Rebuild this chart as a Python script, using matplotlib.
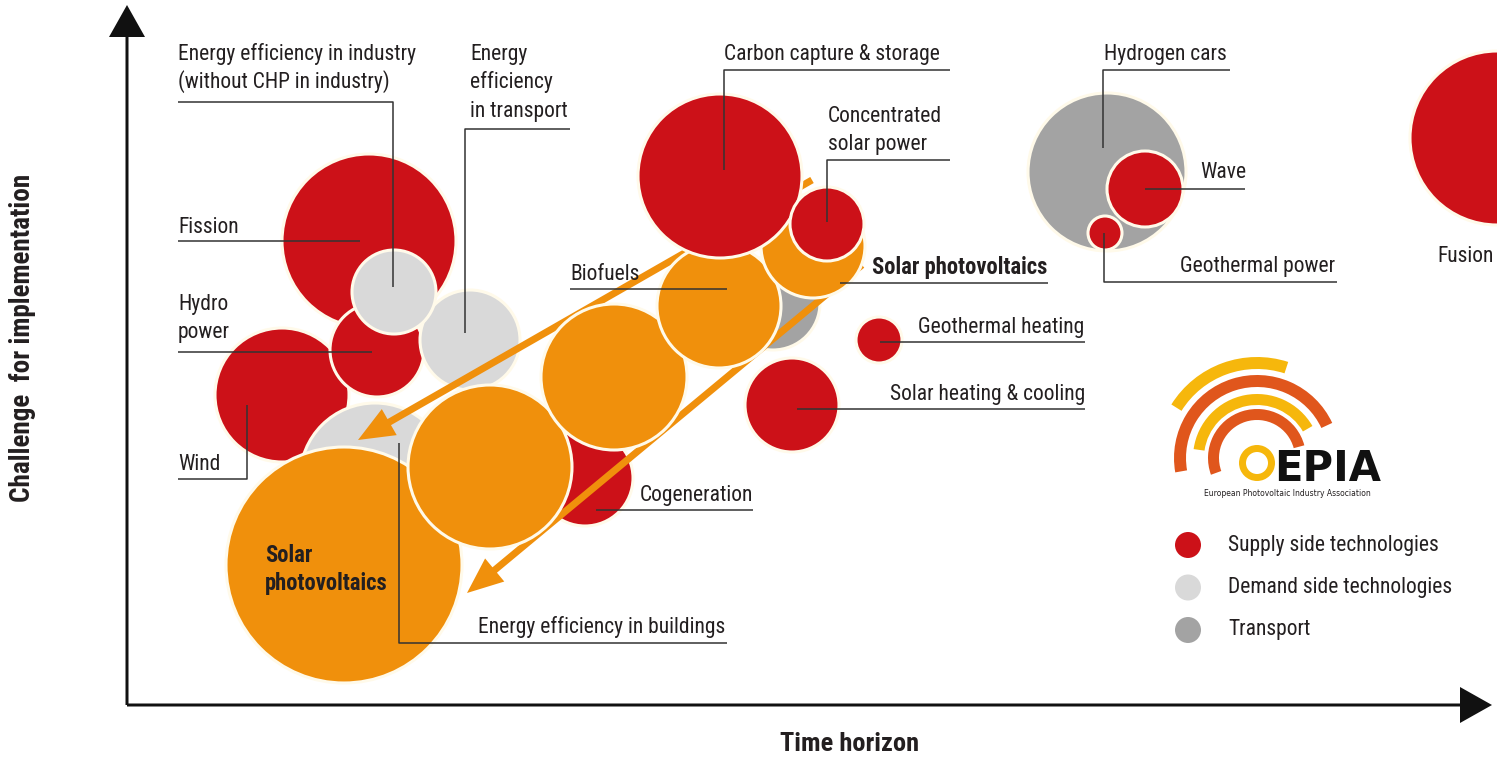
import matplotlib.pyplot as plt
from matplotlib.patches import Circle, Wedge, FancyArrow

plt.rcParams['font.family'] = ['Roboto Condensed', 'Archivo Narrow',
                               'Liberation Sans Narrow', 'DejaVu Sans']

RED = '#cc1118'
ORANGE = '#f0900c'
LIGHT = '#d9d9d9'
DARK = '#a3a3a3'
EDGE = '#fffaea'
INK = '#231f20'

# origin of the chart (axis corner) in picture pixels, used for the text layout
OX, OY = 127, 705

# bubbles: x = time horizon, y = challenge for implementation, r = bubble size
tech = ['Wind', 'Fission', 'Hydro power', 'Energy efficiency in transport',
        'Energy efficiency in industry', 'Energy efficiency in buildings',
        'Cogeneration', 'Solar heating & cooling', 'Geothermal heating',
        'Biofuels', 'Solar PV 1', 'Solar PV 2', 'Solar PV 3', 'Solar PV 4',
        'Solar PV 5', 'Carbon capture & storage', 'Concentrated solar power',
        'Hydrogen cars', 'Wave', 'Geothermal power', 'Fusion']
group = ['supply', 'supply', 'supply', 'demand', 'demand', 'demand',
         'supply', 'supply', 'supply', 'transport', 'pv', 'pv', 'pv', 'pv',
         'pv', 'supply', 'supply', 'transport', 'supply', 'supply', 'supply']
tx = [155, 242, 250, 343, 267, 248, 458, 665, 752, 646,
      217, 363, 487, 592, 686, 593, 700, 980, 1018, 978, 1370]
cy = [310, 464, 355, 365, 413, 227, 227, 300, 365, 402,
      140, 238, 328, 399, 459, 529, 481, 533, 516, 472, 567]
size = [67, 87, 47, 50, 42, 75, 48, 47, 23, 47,
        118, 82, 73, 62, 52, 82, 37, 79, 38, 17, 87]

# PV path arrows (start, tip) in chart units
arrow_start = [(685, 525), (735, 440)]
arrow_tip = [(231, 265), (340, 112)]

colors = {'supply': RED, 'demand': LIGHT, 'transport': DARK, 'pv': ORANGE}

fig = plt.figure(figsize=(14.97, 7.58), dpi=100)
ax = fig.add_axes([0, 0, 1, 1])
ax.set_xlim(-OX, 1497 - OX)
ax.set_ylim(OY - 758, OY)
ax.axis('off')


def P(px, py):
    return px - OX, OY - py


# bubbles before the PV chain, then arrows, then PV chain and the rest
first_pv = group.index('pv')
for i in range(first_pv):
    ax.add_patch(Circle((tx[i], cy[i]), size[i], facecolor=colors[group[i]],
                        edgecolor=EDGE, linewidth=2.2, zorder=2 + i * 0.01))

for (x0, y0), (x1, y1) in zip(arrow_start, arrow_tip):
    ax.add_patch(FancyArrow(x0, y0, x1 - x0, y1 - y0, width=7, head_width=30,
                            head_length=36, length_includes_head=True,
                            color=ORANGE, linewidth=0, zorder=3))

for i in range(first_pv, len(tech)):
    ax.add_patch(Circle((tx[i], cy[i]), size[i], facecolor=colors[group[i]],
                        edgecolor=EDGE, linewidth=2.2, zorder=4 + i * 0.01))

# axes arrows
ax.add_patch(FancyArrow(0, 0, 0, 700, width=3, head_width=36, head_length=32,
                        length_includes_head=True, color='#111111', linewidth=0, zorder=6))
ax.add_patch(FancyArrow(0, 0, 1365, 0, width=3, head_width=36, head_length=32,
                        length_includes_head=True, color='#111111', linewidth=0, zorder=6))

ax.text(*P(22, 338), 'Challenge  for implementation', rotation=90, ha='center',
        va='center', fontsize=19.5, fontweight='bold', color=INK)
ax.text(*P(850, 744), 'Time horizon', ha='center', va='center',
        fontsize=19, fontweight='bold', color=INK)

# labels: text, left x, baseline y (pixels), bold
labels = [
    ('Energy efficiency in industry', 178, 60, False),
    ('(without CHP in industry)', 178, 88, False),
    ('Energy', 470, 60, False),
    ('efficiency', 470, 88, False),
    ('in transport', 470, 117, False),
    ('Fission', 178, 233, False),
    ('Hydro', 178, 310, False),
    ('power', 178, 338, False),
    ('Wind', 178, 470, False),
    ('Carbon capture & storage', 724, 60, False),
    ('Concentrated', 828, 122, False),
    ('solar power', 828, 150, False),
    ('Solar photovoltaics', 872, 274, True),
    ('Biofuels', 570, 280, False),
    ('Geothermal heating', 918, 333, False),
    ('Solar heating & cooling', 890, 400, False),
    ('Cogeneration', 640, 501, False),
    ('Energy efficiency in buildings', 478, 633, False),
    ('Solar', 265, 562, True),
    ('photovoltaics', 265, 590, True),
    ('Hydrogen cars', 1104, 60, False),
    ('Wave', 1200, 178, False),
    ('Geothermal power', 1180, 272, False),
    ('Fusion', 1437, 262, False),
]
for text, x, y, bold in labels:
    ax.text(*P(x, y), text, ha='left', va='baseline',
            fontsize=16.3 if bold else 15.5,
            fontweight='bold' if bold else 'normal', color=INK, zorder=8)

leaders = [
    [(178, 102), (393, 102), (393, 287)],
    [(570, 129), (465, 129), (465, 333)],
    [(178, 241), (360, 241)],
    [(178, 352), (372, 352)],
    [(178, 479), (247, 479), (247, 405)],
    [(950, 70), (724, 70), (724, 170)],
    [(950, 160), (827, 160), (827, 222)],
    [(840, 283), (1048, 283)],
    [(570, 289), (727, 289)],
    [(880, 342), (1085, 342)],
    [(797, 409), (1085, 409)],
    [(596, 510), (753, 510)],
    [(399, 443), (399, 643), (727, 643)],
    [(1103, 148), (1103, 70), (1230, 70)],
    [(1145, 189), (1245, 189)],
    [(1104, 233), (1104, 282), (1337, 282)],
]
for path in leaders:
    xs, ys = zip(*[P(px, py) for px, py in path])
    ax.plot(xs, ys, color='#333333', linewidth=1.1, zorder=7,
            solid_capstyle='butt')

# legend
legend_labels = ['Supply side technologies', 'Demand side technologies', 'Transport']
legend_cols = [RED, LIGHT, DARK]
for k, (lab, col) in enumerate(zip(legend_labels, legend_cols)):
    x, y = P(1188, 545 + 42.5 * k)
    ax.add_patch(Circle((x, y), 13, facecolor=col, edgecolor='none', zorder=5))
    ax.text(*P(1228, 545 + 42.5 * k), lab, ha='left', va='center',
            fontsize=15.5, color=INK)

# EPIA logo
lc = P(1257, 458)
YEL = '#f6b70c'
ROR = '#e0561c'
arcs = [(49, 11, 15, 200, ROR), (64, 11, 30, 172, YEL),
        (83, 12, 25, 190, ROR), (101, 12, 72, 148, YEL)]
for r, w, t1, t2, col in arcs:
    ax.add_patch(Wedge(lc, r, t1, t2, width=w, facecolor=col,
                       edgecolor='none', zorder=5))
ax.add_patch(Wedge(P(1257, 463), 18, 0, 360, width=7, facecolor=YEL,
                   edgecolor='none', zorder=5))
ax.text(*P(1274, 481), 'EPIA', ha='left', va='baseline', fontsize=30,
        fontweight='bold', family='DejaVu Sans', color='#111111', zorder=6)
ax.text(*P(1287, 496), 'European Photovoltaic Industry Association',
        ha='center', va='baseline', fontsize=5.5, family='DejaVu Sans',
        color=INK, zorder=6)

fig.savefig('out.png', dpi=100, facecolor='white')
